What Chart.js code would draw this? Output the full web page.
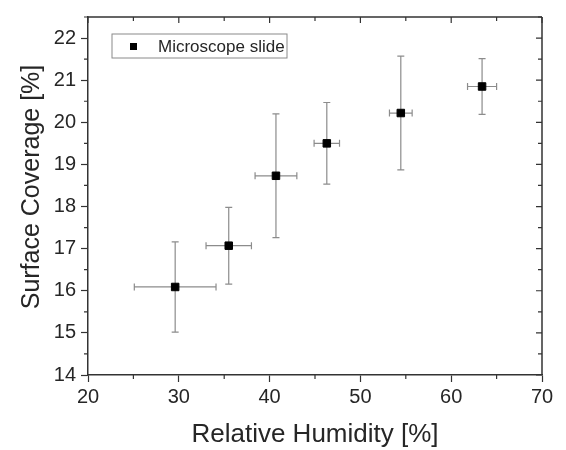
<!DOCTYPE html>
<html>
<head>
<meta charset="utf-8">
<script src="https://cdn.jsdelivr.net/npm/chart.js@4.4.1/dist/chart.umd.min.js"></script>
<style>
  html, body { margin: 0; padding: 0; background: #fff; }
  #wrap { width: 566px; height: 450px; }
</style>
</head>
<body>
<div id="wrap"><canvas id="coverageChart"></canvas></div>
<script>
// values
const humidity = [29.6, 35.5, 40.7, 46.3, 54.45, 63.4];
const humidityErr = [4.5, 2.5, 2.3, 1.4, 1.25, 1.6];
const coverage = [16.09, 17.07, 18.73, 19.5, 20.22, 20.85];
const coverageErr = [1.07, 0.91, 1.47, 0.97, 1.35, 0.66];
const xTicks = [20, 30, 40, 50, 60, 70];
const yTicks = [14, 15, 16, 17, 18, 19, 20, 21, 22];
const seriesLabel = 'Microscope slide';
const yTitle = 'Surface Coverage [%]';

const FONT = '"Liberation Sans", Arial, sans-serif';
const AXIS = '#333';
const TEXT = '#262626';

// error bars, drawn under the markers
const errorBars = {
    id: 'errorBars',
    beforeDatasetsDraw(chart) {
        const ctx = chart.ctx;
        const xs = chart.scales.x, ys = chart.scales.y;
        const cap = 3.5;
        ctx.save();
        ctx.strokeStyle = '#8c8c8c';
        ctx.lineWidth = 1.2;
        humidity.forEach(function(h, i) {
            const px = xs.getPixelForValue(h);
            const py = ys.getPixelForValue(coverage[i]);
            const x0 = xs.getPixelForValue(h - humidityErr[i]);
            const x1 = xs.getPixelForValue(h + humidityErr[i]);
            const y0 = ys.getPixelForValue(coverage[i] - coverageErr[i]);
            const y1 = ys.getPixelForValue(coverage[i] + coverageErr[i]);
            ctx.beginPath();
            ctx.moveTo(x0, py); ctx.lineTo(x1, py);
            ctx.moveTo(x0, py - cap); ctx.lineTo(x0, py + cap);
            ctx.moveTo(x1, py - cap); ctx.lineTo(x1, py + cap);
            ctx.moveTo(px, y0); ctx.lineTo(px, y1);
            ctx.moveTo(px - cap, y0); ctx.lineTo(px + cap, y0);
            ctx.moveTo(px - cap, y1); ctx.lineTo(px + cap, y1);
            ctx.stroke();
        });
        ctx.restore();
    }
};

// box frame, minor ticks, mirrored ticks, legend and y title
const frame = {
    id: 'frame',
    afterDraw(chart) {
        const ctx = chart.ctx;
        const a = chart.chartArea;
        const xs = chart.scales.x, ys = chart.scales.y;
        ctx.save();
        ctx.strokeStyle = AXIS;
        ctx.lineWidth = 1.5;
        ctx.beginPath();
        ctx.moveTo(a.left, a.top); ctx.lineTo(a.right, a.top);
        ctx.moveTo(a.right, a.top); ctx.lineTo(a.right, a.bottom);
        ctx.stroke();
        ctx.lineWidth = 1.2;
        ctx.beginPath();
        for (let v = 20; v <= 70; v += 5) {
            const p = xs.getPixelForValue(v);
            const major = v % 10 === 0;
            if (!major) { ctx.moveTo(p, a.bottom); ctx.lineTo(p, a.bottom + 4); }
            ctx.moveTo(p, a.top); ctx.lineTo(p, a.top + (major ? 6 : 4));
        }
        for (let v = 14; v <= 22.5; v += 0.5) {
            const p = ys.getPixelForValue(v);
            const major = v % 1 === 0;
            if (!major) { ctx.moveTo(a.left, p); ctx.lineTo(a.left - 4, p); }
            ctx.moveTo(a.right, p); ctx.lineTo(a.right - (major ? 6 : 4), p);
        }
        ctx.stroke();

        // legend inside the plot
        const lx = a.left + 24, ly = a.top + 17;
        ctx.strokeStyle = '#8a8a8a';
        ctx.lineWidth = 1;
        ctx.strokeRect(lx, ly, 175, 24);
        ctx.fillStyle = '#000';
        ctx.fillRect(lx + 18, ly + 9, 7, 7);
        ctx.fillStyle = TEXT;
        ctx.font = '17px ' + FONT;
        ctx.textBaseline = 'middle';
        ctx.fillText(chart.data.datasets[0].label, lx + 46, ly + 13);

        // y axis title, sits a little above the plot centre in the original
        ctx.translate(32, a.top + (a.bottom - a.top) / 2 - 9);
        ctx.rotate(-Math.PI / 2);
        ctx.textAlign = 'center';
        ctx.font = '25px ' + FONT;
        ctx.fillText(yTitle, 0, 0);
        ctx.restore();
    }
};

const ctx = document.getElementById('coverageChart').getContext('2d');
new Chart(ctx, {
    type: 'scatter',
    data: {
        datasets: [{
            label: seriesLabel,
            data: humidity.map(function(h, i) { return { x: h, y: coverage[i] }; }),
            pointStyle: 'rect',
            pointRadius: 5.3,
            pointBorderWidth: 1,
            backgroundColor: '#000',
            borderColor: '#000'
        }]
    },
    options: {
        responsive: true,
        maintainAspectRatio: false,
        animation: false,
        layout: { padding: { top: 9, right: 24, left: 0, bottom: 0 } },
        plugins: {
            legend: { display: false },
            tooltip: { enabled: false }
        },
        scales: {
            x: {
                type: 'linear',
                min: 20,
                max: 70,
                afterBuildTicks: function(scale) {
                    scale.ticks = xTicks.map(function(v) { return { value: v }; });
                },
                afterFit: function(scale) { scale.height = 75; },
                border: { display: true, color: AXIS, width: 1.5 },
                grid: { drawOnChartArea: false, drawTicks: true, tickLength: 7, color: AXIS, tickWidth: 1.2 },
                ticks: { color: TEXT, padding: 3, font: { family: FONT, size: 20 } },
                title: {
                    display: true,
                    text: 'Relative Humidity [%]',
                    color: TEXT,
                    padding: { top: 0, bottom: 0 },
                    font: { family: FONT, size: 26, lineHeight: 1.2 }
                }
            },
            y: {
                type: 'linear',
                min: 14,
                max: 22.5,
                afterBuildTicks: function(scale) {
                    scale.ticks = yTicks.map(function(v) { return { value: v }; });
                },
                afterFit: function(scale) { scale.width = 88; },
                border: { display: true, color: AXIS, width: 1.5 },
                grid: { drawOnChartArea: false, drawTicks: true, tickLength: 7, color: AXIS, tickWidth: 1.2 },
                ticks: { color: TEXT, padding: 5, font: { family: FONT, size: 20 } },
                title: { display: false }
            }
        }
    },
    plugins: [errorBars, frame]
});
</script>
</body>
</html>
